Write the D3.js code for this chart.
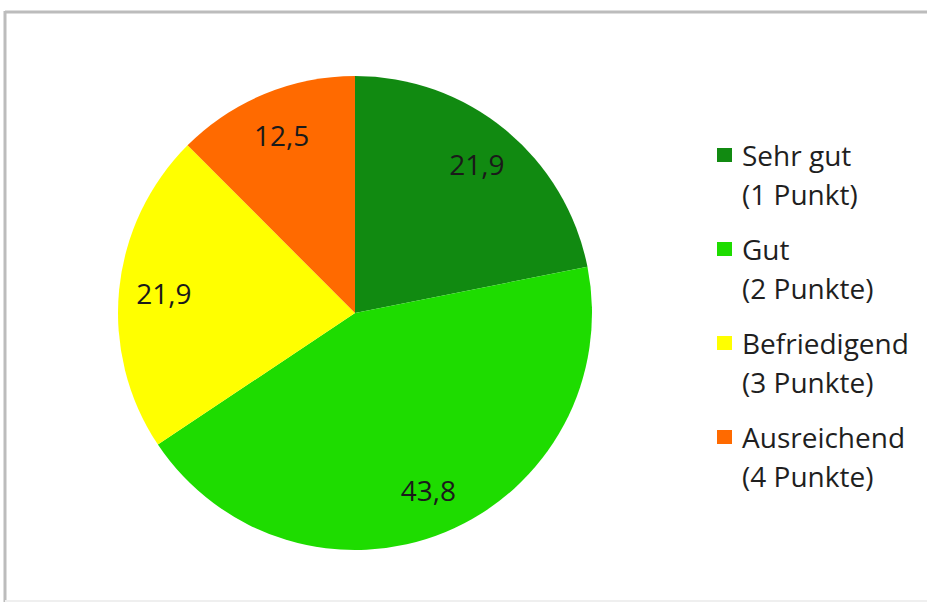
<!DOCTYPE html>
<html><head><meta charset="utf-8">
<script src="https://cdn.jsdelivr.net/npm/d3@7"></script>
<style>html,body{margin:0;padding:0;background:#fff;}</style>
</head><body>
<script>
const categories = ["Sehr gut", "Gut", "Befriedigend", "Ausreichend"];
const subLabels = ["(1 Punkt)", "(2 Punkte)", "(3 Punkte)", "(4 Punkte)"];
const values = [21.9, 43.8, 21.9, 12.5];
const valueLabels = ["21,9", "43,8", "21,9", "12,5"];
const colors = ["#118a11", "#1edc00", "#ffff00", "#ff6a00"];

const W = 927, H = 607;
const svg = d3.select("body").append("svg").attr("width", W).attr("height", H);

// frame
svg.append("line").attr("x1", 5).attr("x2", W).attr("y1", 12).attr("y2", 12)
  .attr("stroke", "#bcbcbc").attr("stroke-width", 3);
svg.append("line").attr("x1", 5).attr("x2", 5).attr("y1", 11).attr("y2", 602)
  .attr("stroke", "#bcbcbc").attr("stroke-width", 3);
svg.append("line").attr("x1", 5).attr("x2", W).attr("y1", 601).attr("y2", 601)
  .attr("stroke", "#efefef").attr("stroke-width", 2);

const cx = 355, cy = 313, r = 237;
const pie = d3.pie().sort(null).value(d => d);
const arcs = pie(values);
const arc = d3.arc().innerRadius(0).outerRadius(r);
const labelArc = d3.arc().innerRadius(192).outerRadius(192);

const g = svg.append("g").attr("transform", `translate(${cx},${cy})`);
g.selectAll("path").data(arcs).join("path")
  .attr("d", arc).attr("fill", (d, i) => colors[i]);

g.selectAll("text").data(arcs).join("text")
  .attr("transform", d => `translate(${labelArc.centroid(d)})`)
  .attr("text-anchor", "middle").attr("dy", "0.36em")
  .attr("font-family", "'Open Sans', sans-serif").attr("font-size", 28)
  .attr("fill", "#1a1a1a")
  .text((d, i) => valueLabels[i]);

const legend = svg.append("g");
const ly = d3.scaleLinear().domain([0, 3]).range([166, 448]);
categories.forEach((c, i) => {
  const y = ly(i);
  legend.append("rect").attr("x", 717).attr("y", y - 18).attr("width", 15).attr("height", 14)
    .attr("fill", colors[i]);
  legend.append("text").attr("x", 742).attr("y", y)
    .attr("font-family", "'Open Sans', sans-serif").attr("font-size", 28).attr("fill", "#1f1f1f")
    .text(c);
  legend.append("text").attr("x", 742).attr("y", y + 39)
    .attr("font-family", "'Open Sans', sans-serif").attr("font-size", 28).attr("fill", "#1f1f1f")
    .text(subLabels[i]);
});
</script>
</body></html>
